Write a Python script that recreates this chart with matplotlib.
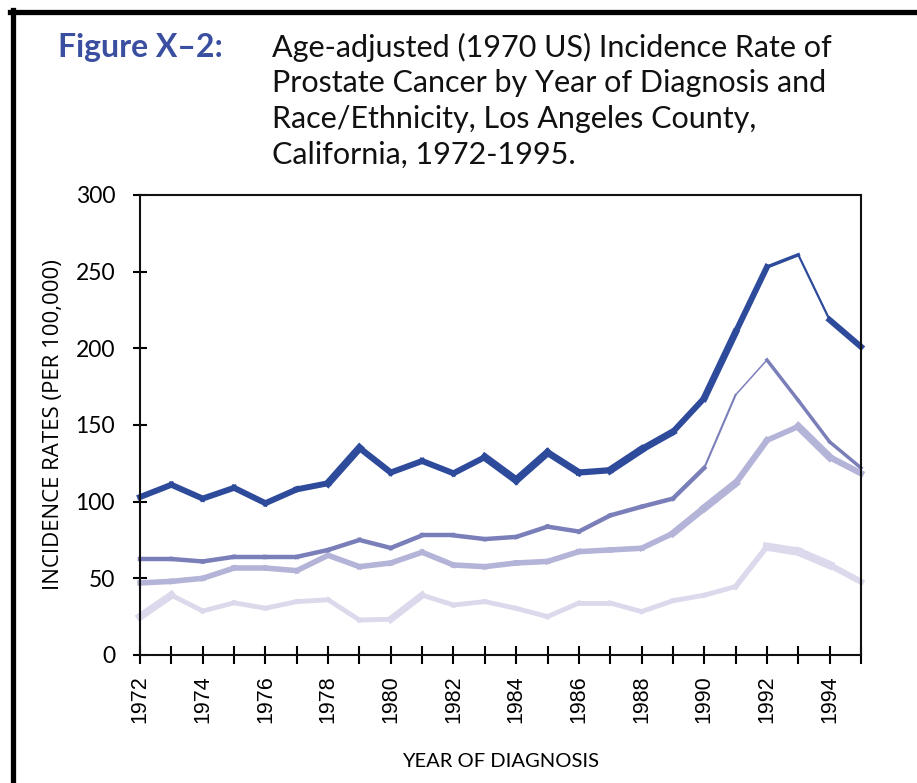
import matplotlib.pyplot as plt
from matplotlib.lines import Line2D

plt.rcParams.update({
    "font.family": ["Lato", "DejaVu Sans"],
    "axes.linewidth": 1.5,
})

YEARS = list(range(1972, 1996))

# age-adjusted incidence per 100,000, four race/ethnicity groups
RATE_A = [103, 111, 102, 109, 99, 108, 112, 135, 119, 126.5, 118.5, 129,
          114, 132, 119, 120.5, 134, 145.5, 167.5, 210.5, 253, 261, 218.5, 201]
RATE_B = [62.6, 62.6, 61, 64, 64, 64, 68.5, 75, 69.8, 78, 78, 75.6,
          77, 83.7, 80.5, 91, 96.7, 102, 122, 169.6, 192.4, 166, 139, 122]
RATE_C = [47, 48, 50, 56.7, 56.7, 55, 65, 57.6, 60, 67, 58.7, 57.6,
          60, 61, 67.4, 68.5, 69.6, 79.3, 95.8, 112, 140, 149, 129, 118.5]
RATE_D = [25, 39, 28.7, 34, 30.5, 34.8, 36, 22.8, 23.3, 39, 32.6, 34.8,
          30.4, 25, 33.9, 33.9, 28.3, 35.4, 39, 44.6, 70.6, 67.4, 58.7, 47.8]

COLORS = ["#2e4a9b", "#7b7fb9", "#b4b3d8", "#dcd9ec"]

# stroke width of each year-to-year segment (points), as in the printed original
W_A = [4.3, 4.3, 4.3, 4.3, 4.3, 4.3, 5.5, 4.5, 4.3, 4.3, 4.3, 5.5, 5.5, 5, 4.5, 5.5, 5, 4.3, 5, 4.3, 2.5, 1.6, 4.3]
W_B = [3.2] * 18 + [1.5, 1.1, 2.5, 2.5, 2.5]
W_C = [4] * 17 + [5, 5.5, 4.5, 4, 5.5, 4.5]
W_D = [5.5, 3.5, 3.5, 3.5, 3.5, 3.5, 3.5, 3.5, 5, 3.5, 3.5, 3.5, 3.5, 3.5,
       3.5, 3.5, 3.5, 3.5, 3.5, 4, 6, 6, 4.5]

fig = plt.figure(figsize=(9.17, 7.83), dpi=100)
ax = fig.add_axes([0.1527, 0.1635, 0.7862, 0.5875])

for rates, widths, col in [(RATE_D, W_D, COLORS[3]), (RATE_C, W_C, COLORS[2]),
                           (RATE_B, W_B, COLORS[1]), (RATE_A, W_A, COLORS[0])]:
    for i in range(len(YEARS) - 1):
        ax.plot(YEARS[i:i + 2], rates[i:i + 2], color=col, lw=widths[i],
                solid_capstyle="projecting", clip_on=False)

ax.set_xlim(1972, 1995)
ax.set_ylim(0, 300)
ax.set_yticks(range(0, 301, 50))
ax.set_xticks(YEARS)
ax.set_xticklabels([str(y) if y % 2 == 0 else "" for y in YEARS],
                   rotation=90, fontsize=15.5, family=["Liberation Sans", "DejaVu Sans"])
ax.tick_params(axis="y", direction="inout", length=10, width=1.5, pad=13, labelsize=16.5)
ax.tick_params(axis="x", direction="inout", length=13, width=1.5, pad=8)
for s in ax.spines.values():
    s.set_color("#111111")

ax.set_ylabel("INCIDENCE RATES (PER 100,000)", fontsize=16, labelpad=8,
              family=["Open Sans", "DejaVu Sans"])
ax.set_xlabel("YEAR OF DIAGNOSIS", fontsize=14.5, labelpad=22)

# title block
fig.text(58 / 917, 1 - 47 / 783, "Figure X\u20132:", color="#3a4fa0", fontsize=23,
         fontweight="bold", va="center", ha="left")
title = ["Age-adjusted (1970 US) Incidence Rate of",
         "Prostate Cancer by Year of Diagnosis and",
         "Race/Ethnicity, Los Angeles County,",
         "California, 1972-1995."]
for k, line in enumerate(title):
    fig.text(272 / 917, 1 - (47 + 36 * k) / 783, line, fontsize=22, va="center",
             ha="left", color="#111111")

# page border
fig.add_artist(Line2D([10 / 917, 1], [1 - 12 / 783] * 2, color="black", lw=3.8,
                      transform=fig.transFigure))
fig.add_artist(Line2D([12.5 / 917] * 2, [0, 1 - 10 / 783], color="black", lw=3.8,
                      transform=fig.transFigure))

fig.savefig("out.png", dpi=100)
